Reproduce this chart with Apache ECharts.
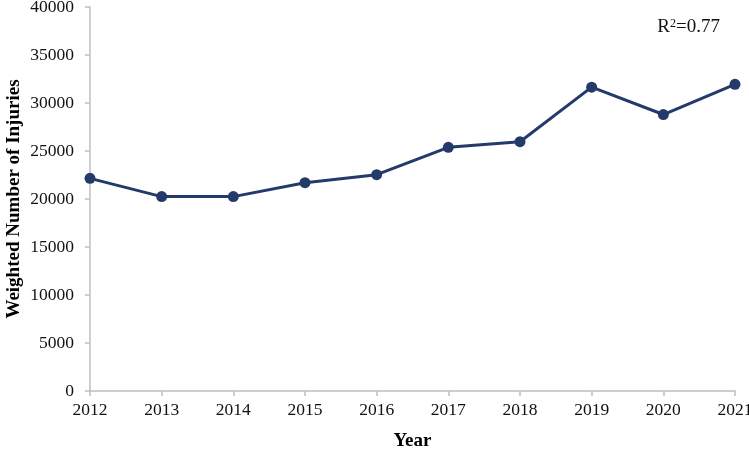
<!DOCTYPE html>
<html>
<head>
<meta charset="utf-8">
<script src="https://cdn.jsdelivr.net/npm/echarts@6/dist/echarts.min.js"></script>
<style>html,body{margin:0;padding:0;background:#fff}#c{width:749px;height:450px}</style>
</head>
<body>
<div id="c"></div>
<script>
const years = ['2012','2013','2014','2015','2016','2017','2018','2019','2020','2021'];
const injuries = [22150, 20250, 20250, 21700, 22530, 25380, 25970, 31650, 28800, 31950];
const yTicks = {min: 0, max: 40000, interval: 5000};
const annotation = 'R²=0.77';

const font = '"Liberation Serif", "Times New Roman", serif';
const chart = echarts.init(document.getElementById('c'), null, {renderer: 'canvas'});
chart.setOption({
  animation: false,
  backgroundColor: '#fff',
  grid: {left: 90, right: 14, top: 7, bottom: 59, containLabel: false, outerBoundsMode: 'none'},
  xAxis: {
    type: 'category', data: years, boundaryGap: false,
    name: 'Year', nameLocation: 'middle', nameGap: 41, nameMoveOverlap: false,
    nameTextStyle: {fontFamily: font, fontWeight: 'bold', fontSize: 19, color: '#000'},
    axisLine: {lineStyle: {color: '#bfbfbf', width: 1.5}},
    axisTick: {show: true, alignWithLabel: true, length: 5, lineStyle: {color: '#bfbfbf', width: 1.5}},
    axisLabel: {fontFamily: font, fontSize: 17.5, color: '#111', margin: 10},
    splitLine: {show: false}
  },
  yAxis: {
    type: 'value', min: yTicks.min, max: yTicks.max, interval: yTicks.interval,
    name: 'Weighted Number of Injuries', nameLocation: 'middle', nameGap: 66, nameMoveOverlap: false,
    nameTextStyle: {fontFamily: font, fontWeight: 'bold', fontSize: 19, color: '#000'},
    axisLine: {show: true, lineStyle: {color: '#bfbfbf', width: 1.5}},
    axisTick: {show: true, length: 5, lineStyle: {color: '#bfbfbf', width: 1.5}},
    axisLabel: {fontFamily: font, fontSize: 17.5, color: '#111', margin: 16, formatter: v => String(v)},
    splitLine: {show: false}
  },
  graphic: [{
    type: 'text', right: 29, top: 18,
    style: {
      text: '{r|R}{s|2}{r|=0.77}',
      rich: {
        r: {fontFamily: font, fontSize: 19, fill: '#111'},
        s: {fontFamily: font, fontSize: 12, fill: '#111', verticalAlign: 'top', padding: [0,0,7,0]}
      }
    }
  }],
  series: [{
    type: 'line', data: injuries,
    symbol: 'circle', symbolSize: 11,
    lineStyle: {color: '#243a6b', width: 3},
    itemStyle: {color: '#243a6b'}
  }]
});
</script>
</body>
</html>
